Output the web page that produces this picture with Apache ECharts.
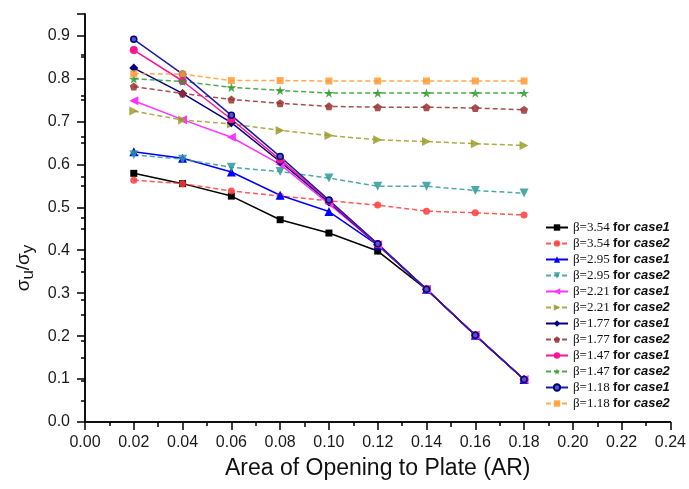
<!DOCTYPE html>
<html>
<head>
<meta charset="utf-8">
<script src="https://cdn.jsdelivr.net/npm/echarts@6/dist/echarts.min.js"></script>
<style>
html, body { margin: 0; padding: 0; background: #fff; }
#main { width: 689px; height: 489px; }
</style>
</head>
<body>
<div id="main"></div>
<script>
// area ratio AR on the x axis
var ratios = [0.02, 0.04, 0.06, 0.08, 0.10, 0.12, 0.14, 0.16, 0.18];

// sigma_u / sigma_y
var b354c1 = [0.579, 0.555, 0.526, 0.471, 0.440, 0.398, 0.309, 0.202, 0.099];
var b354c2 = [0.563, 0.555, 0.538, 0.526, 0.515, 0.505, 0.491, 0.487, 0.482];
var b295c1 = [0.629, 0.614, 0.582, 0.528, 0.490, 0.412, 0.309, 0.202, 0.099];
var b295c2 = [0.622, 0.612, 0.593, 0.583, 0.568, 0.549, 0.549, 0.539, 0.533];
var b221c1 = [0.748, 0.704, 0.663, 0.600, 0.508, 0.413, 0.309, 0.202, 0.099];
var b221c2 = [0.724, 0.703, 0.694, 0.679, 0.667, 0.657, 0.653, 0.648, 0.644];
var b177c1 = [0.824, 0.765, 0.697, 0.606, 0.512, 0.413, 0.309, 0.202, 0.099];
var b177c2 = [0.781, 0.765, 0.751, 0.742, 0.735, 0.733, 0.733, 0.731, 0.727];
var b147c1 = [0.866, 0.794, 0.705, 0.611, 0.515, 0.414, 0.309, 0.202, 0.099];
var b147c2 = [0.799, 0.793, 0.779, 0.772, 0.766, 0.766, 0.766, 0.766, 0.766];
var b118c1 = [0.891, 0.810, 0.714, 0.618, 0.517, 0.415, 0.309, 0.202, 0.099];
var b118c2 = [0.811, 0.810, 0.795, 0.795, 0.794, 0.794, 0.794, 0.794, 0.794];

var seriesNames = [
    'β=3.54 for case1', 'β=3.54 for case2',
    'β=2.95 for case1', 'β=2.95 for case2',
    'β=2.21 for case1', 'β=2.21 for case2',
    'β=1.77 for case1', 'β=1.77 for case2',
    'β=1.47 for case1', 'β=1.47 for case2',
    'β=1.18 for case1', 'β=1.18 for case2'
];

var STAR = 'path://M50,0 L61,35 L98,35 L68,57 L79,91 L50,70 L21,91 L32,57 L2,35 L39,35 Z';
var PENTA = 'path://M50,0 L100,38 L81,100 L19,100 L0,38 Z';
var FONT = '"Liberation Sans", Arial, sans-serif';

function pairs(ys) {
    return ys.map(function (y, i) { return [ratios[i], y]; });
}

function line(name, ys, color, symbol, size, dashed, rotate, extra) {
    var s = {
        name: name,
        type: 'line',
        data: pairs(ys),
        symbol: symbol,
        symbolSize: size,
        symbolRotate: rotate || 0,
        symbolKeepAspect: true,
        showAllSymbol: true,
        z: 3,
        lineStyle: { color: color, width: 1.5, type: dashed ? [5, 3] : 'solid', opacity: dashed ? 0.85 : 1 },
        itemStyle: { color: color, opacity: dashed ? 0.85 : 1 },
        emphasis: { disabled: true }
    };
    if (extra) s.itemStyle = extra;
    return s;
}

var myChart = echarts.init(document.getElementById('main'));
var option = {
    animation: false,
    backgroundColor: '#fff',
    grid: { left: 85, right: 16, top: 14, bottom: 67 },
    legend: {
        orient: 'vertical',
        left: 540,
        top: 216,
        itemWidth: 22,
        itemHeight: 8,
        itemGap: 3,
        data: seriesNames,
        formatter: function (name) {
            var p = name.split(' for ');
            return '{b|' + p[0] + '} {f|for} {i|' + p[1] + '}';
        },
        textStyle: {
            color: '#111',
            rich: {
                b: { fontFamily: '"Liberation Serif", serif', fontSize: 13, lineHeight: 14, color: '#111' },
                f: { fontFamily: FONT, fontSize: 13, fontWeight: 'bold', lineHeight: 14, color: '#111' },
                i: { fontFamily: FONT, fontSize: 13, fontWeight: 'bold', fontStyle: 'italic', lineHeight: 14, color: '#111' }
            }
        }
    },
    xAxis: [{
        type: 'value',
        min: 0,
        max: 0.24,
        interval: 0.02,
        name: 'Area of Opening to Plate (AR)',
        nameLocation: 'middle',
        nameGap: 35,
        nameTextStyle: { fontFamily: FONT, fontSize: 23, color: '#111' },
        axisLine: { show: true, lineStyle: { color: '#000', width: 1.5 } },
        axisTick: { show: true, inside: false, length: 8, lineStyle: { color: '#000', width: 1.5 } },
        minorTick: { show: true, splitNumber: 2, length: 4, lineStyle: { color: '#000', width: 1.5 } },
        axisLabel: {
            margin: 13,
            fontFamily: FONT,
            fontSize: 16,
            color: '#1a1a1a',
            formatter: function (v) { return v.toFixed(2); }
        },
        splitLine: { show: false }
    }, {
        type: 'value',
        position: 'top',
        min: 0,
        max: 0.24,
        interval: 0.03,
        axisLine: { show: true, lineStyle: { color: '#000', width: 1.5 } },
        axisTick: { show: true, inside: true, length: 5, lineStyle: { color: '#000', width: 1.5 } },
        axisLabel: { show: false },
        splitLine: { show: false }
    }],
    yAxis: [{
        type: 'value',
        min: 0,
        max: 0.95,
        interval: 0.1,
        name: '{a|σ}{s|u}{a|/σ}{s|y}',
        nameLocation: 'middle',
        nameRotate: 90,
        nameGap: 44,
        nameTextStyle: {
            padding: [0, 100, 0, 0],
            rich: {
                a: { fontFamily: FONT, fontSize: 19, color: '#111', lineHeight: 20, verticalAlign: 'top' },
                s: { fontFamily: FONT, fontSize: 17, color: '#111', lineHeight: 20, padding: [6, 0, 0, 0], verticalAlign: 'top' }
            }
        },
        axisLine: { show: true, lineStyle: { color: '#000', width: 1.5 } },
        axisTick: { show: true, inside: false, length: 8, lineStyle: { color: '#000', width: 1.5 } },
        minorTick: { show: true, splitNumber: 2, length: 4, lineStyle: { color: '#000', width: 1.5 } },
        axisLabel: {
            margin: 15,
            fontFamily: FONT,
            fontSize: 16,
            color: '#1a1a1a',
            formatter: function (v) { return Math.abs(v - 0.95) < 1e-6 ? '' : v.toFixed(1); }
        },
        splitLine: { show: false }
    }, {
        type: 'value',
        position: 'right',
        min: 0,
        max: 0.95,
        interval: 0.095,
        axisLine: { show: true, lineStyle: { color: '#000', width: 1.5 } },
        axisTick: { show: true, inside: true, length: 4, lineStyle: { color: '#000', width: 1.5 } },
        axisLabel: { show: false },
        splitLine: { show: false }
    }],
    series: [
        line(seriesNames[0], b354c1, '#000000', 'rect', 7, false),
        line(seriesNames[1], b354c2, '#ff3c3c', 'circle', 7, true),
        line(seriesNames[2], b295c1, '#0000ff', 'triangle', 9, false),
        line(seriesNames[3], b295c2, '#2e9a9a', 'triangle', 9, true, 180),
        line(seriesNames[4], b221c1, '#ff33ff', 'triangle', 9, false, 90),
        line(seriesNames[5], b221c2, '#9c9c2a', 'triangle', 9, true, -90),
        line(seriesNames[6], b177c1, '#000080', 'diamond', 9, false),
        line(seriesNames[7], b177c2, '#9a3030', PENTA, 8, true),
        line(seriesNames[8], b147c1, '#ff1493', 'circle', 8, false),
        line(seriesNames[9], b147c2, '#2f9a2f', STAR, 10, true),
        line(seriesNames[10], b118c1, '#1c1ca6', 'circle', 6, false, 0,
            { color: '#5555c8', borderColor: '#00007a', borderWidth: 1.5 }),
        line(seriesNames[11], b118c2, '#ff9a33', 'rect', 7, true)
    ]
};
myChart.setOption(option);
</script>
</body>
</html>
